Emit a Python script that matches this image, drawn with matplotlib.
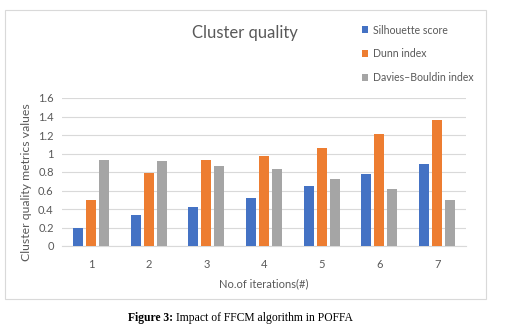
import matplotlib
matplotlib.use("Agg")
import matplotlib.pyplot as plt
import numpy as np
from matplotlib.patches import Rectangle
from matplotlib.ticker import FuncFormatter

iterations = ["1", "2", "3", "4", "5", "6", "7"]
silhouette = [0.20, 0.33, 0.42, 0.52, 0.65, 0.78, 0.89]
dunn = [0.50, 0.79, 0.93, 0.97, 1.06, 1.21, 1.36]
davies = [0.93, 0.92, 0.87, 0.83, 0.72, 0.62, 0.50]
series_names = ["Silhouette score", "Dunn index", "Davies\u2013Bouldin index"]
colors = ["#4472C4", "#ED7D31", "#A5A5A5"]

TXT = "#595959"
plt.rcParams['font.family'] = ['Lato', 'DejaVu Sans']

fig = plt.figure(figsize=(5.08, 3.32), dpi=100)
W, H = 508, 332

# chart frame
fig.patches.append(Rectangle((5 / W, 1 - 299 / H), 481 / W, 289 / H,
                             transform=fig.transFigure, fill=False,
                             edgecolor="#D9D9D9", linewidth=0.8))

ax = fig.add_axes([62 / W, 1 - 246 / H, 404 / W, 148 / H])
x = np.arange(len(iterations))
width = 0.173
step = 0.225
for i, (vals, name) in enumerate(zip([silhouette, dunn, davies], series_names)):
    ax.bar(x + (i - 1) * step, vals, width, color=colors[i], label=name, zorder=3)

ax.set_xlim(-0.5, len(iterations) - 0.5)
ax.set_ylim(0, 1.6)
ax.set_yticks(np.arange(0, 1.61, 0.2))
ax.yaxis.set_major_formatter(FuncFormatter(lambda v, p: "%g" % round(v, 1)))
ax.set_xticks(x)
ax.set_xticklabels(iterations)
ax.grid(axis="y", color="#D9D9D9", linewidth=0.8, zorder=0)
for s in ["top", "right", "left"]:
    ax.spines[s].set_visible(False)
ax.spines["bottom"].set_color("#D9D9D9")
ax.tick_params(axis="both", length=0, colors=TXT, labelsize=8)
ax.tick_params(axis="x", pad=9)
ax.tick_params(axis="y", pad=6)
ax.set_xlabel("No.of iterations(#)", fontsize=8, color=TXT, labelpad=6)
ax.set_ylabel("Cluster quality metrics values", fontsize=8.8, color=TXT)
ax.yaxis.set_label_coords(-30 / 404, 0.43)

fig.text(245 / W, 1 - 33 / H, "Cluster quality", fontsize=12, color=TXT,
         ha="center", va="center")

leg = fig.legend(loc="upper left", bbox_to_anchor=(352 / W, 1 - 15 / H),
                 frameon=False, fontsize=7.6, labelcolor=TXT,
                 handlelength=0.65, handleheight=0.65, handletextpad=0.4,
                 labelspacing=1.2)

# caption
fig.canvas.draw()
r = fig.canvas.get_renderer()
t1 = fig.text(128 / W, 1 - 318 / H, "Figure 3:", fontsize=8.4, fontweight="bold",
              family="Liberation Serif", va="center", ha="left")
bb = t1.get_window_extent(renderer=r)
fig.text((bb.x1 + 3) / W, 1 - 318 / H, "Impact of FFCM algorithm in POFFA",
         fontsize=8.4, family="Liberation Serif", va="center", ha="left")

fig.savefig("out.png", dpi=100)
